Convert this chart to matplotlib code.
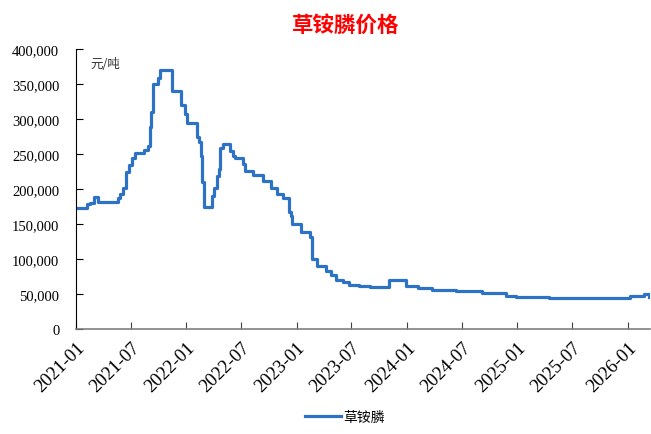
import matplotlib
matplotlib.use('Agg')
import matplotlib.pyplot as plt
import matplotlib.ticker as mticker
import pandas as pd

# 草铵膦价格 (元/吨)，按变动点读取
fechas = ['2021-01-01', '2021-02-06', '2021-02-15', '2021-03-01', '2021-03-16',
          '2021-05-19', '2021-05-26', '2021-06-05', '2021-06-16', '2021-06-25',
          '2021-07-07', '2021-07-16', '2021-07-19', '2021-08-13', '2021-08-27',
          '2021-09-02', '2021-09-07', '2021-09-13', '2021-09-28', '2021-10-05',
          '2021-11-14', '2021-12-16', '2021-12-28', '2022-01-02', '2022-02-04',
          '2022-02-13', '2022-02-19', '2022-02-23', '2022-02-28', '2022-03-23',
          '2022-03-28', '2022-04-04', '2022-04-12', '2022-04-19', '2022-04-22',
          '2022-05-01', '2022-05-25', '2022-06-04', '2022-06-10', '2022-07-07',
          '2022-07-13', '2022-08-10', '2022-09-13', '2022-10-10', '2022-10-28',
          '2022-11-16', '2022-12-07', '2022-12-13', '2022-12-17', '2023-01-16',
          '2023-02-13', '2023-02-22', '2023-03-10', '2023-04-08', '2023-04-25',
          '2023-05-10', '2023-06-02', '2023-06-25', '2023-07-28', '2023-09-01',
          '2023-11-02', '2023-12-30', '2024-02-07', '2024-03-25', '2024-06-13',
          '2024-09-07', '2024-11-25', '2024-12-28', '2025-04-16', '2025-07-25',
          '2026-01-07', '2026-02-25', '2026-03-13']
precios = [172500, 178000, 180000, 188000, 182000,
           187000, 193000, 202000, 224000, 234000,
           244000, 251000, 251000, 256000, 261000,
           288000, 309500, 350000, 358000, 370000,
           340000, 320000, 307000, 295000, 274000,
           267000, 247000, 210000, 174000, 175000,
           190000, 202000, 219000, 229000, 259000,
           265000, 255000, 247000, 245000, 236000,
           226000, 220000, 212000, 202000, 193000,
           187000, 167000, 162000, 150000, 139000,
           131000, 100000, 90000, 83000, 77000,
           70000, 66700, 63300, 61000, 60000,
           70000, 62000, 58600, 56000, 54000,
           51500, 47500, 45700, 44000, 44300,
           46700, 50000, 45000]

ticks_x = ['2021-01', '2021-07', '2022-01', '2022-07', '2023-01', '2023-07',
           '2024-01', '2024-07', '2025-01', '2025-07', '2026-01']

fechas_dt = pd.to_datetime(fechas)

plt.rcParams['font.family'] = ['Liberation Serif', 'Noto Sans CJK SC']

fig = plt.figure(figsize=(6.51, 4.35), dpi=100)
ax = fig.add_axes([0.1167, 0.2414, 0.882, 0.6436])

ax.plot(fechas_dt, precios, drawstyle='steps-post', color='#2E72C6',
        linewidth=2.3, label='草铵膦')

ax.set_ylim(0, 400000)
ax.set_xlim(pd.Timestamp('2021-01-01'), pd.Timestamp('2026-03-16'))
ax.yaxis.set_major_locator(mticker.MultipleLocator(50000))
ax.yaxis.set_major_formatter(mticker.FuncFormatter(lambda v, p: f'{int(v):,}'))

ax.set_xticks(pd.to_datetime(ticks_x))
ax.set_xticklabels(ticks_x, rotation=45, ha='right', va='top',
                   rotation_mode='anchor', fontsize=13.5)
for lab in ax.get_yticklabels():
    lab.set_fontsize(10.5)

ax.spines['top'].set_visible(False)
ax.spines['right'].set_visible(False)
ax.spines['bottom'].set_color('#808080')
ax.spines['bottom'].set_linewidth(1.2)
ax.spines['left'].set_color('black')
ax.tick_params(axis='y', direction='in', length=5, pad=12, colors='black')
ax.tick_params(axis='x', direction='in', length=5, pad=7, color='#404040')

ax.text(0.025, 0.95, '元/吨', transform=ax.transAxes, fontsize=9,
        family=['Noto Sans CJK SC'], color='#333333', va='center')

fig.text(0.531, 0.943, '草铵膦价格', color='red', fontsize=15.5,
         fontweight='bold', family=['Noto Sans CJK SC'], ha='center', va='center')

fig.legend(loc='center', bbox_to_anchor=(0.53, 0.04), frameon=False,
           prop={'family': ['Noto Sans CJK SC'], 'size': 10},
           handlelength=2.6, handletextpad=0.2)

fig.savefig('out.png', dpi=100)
